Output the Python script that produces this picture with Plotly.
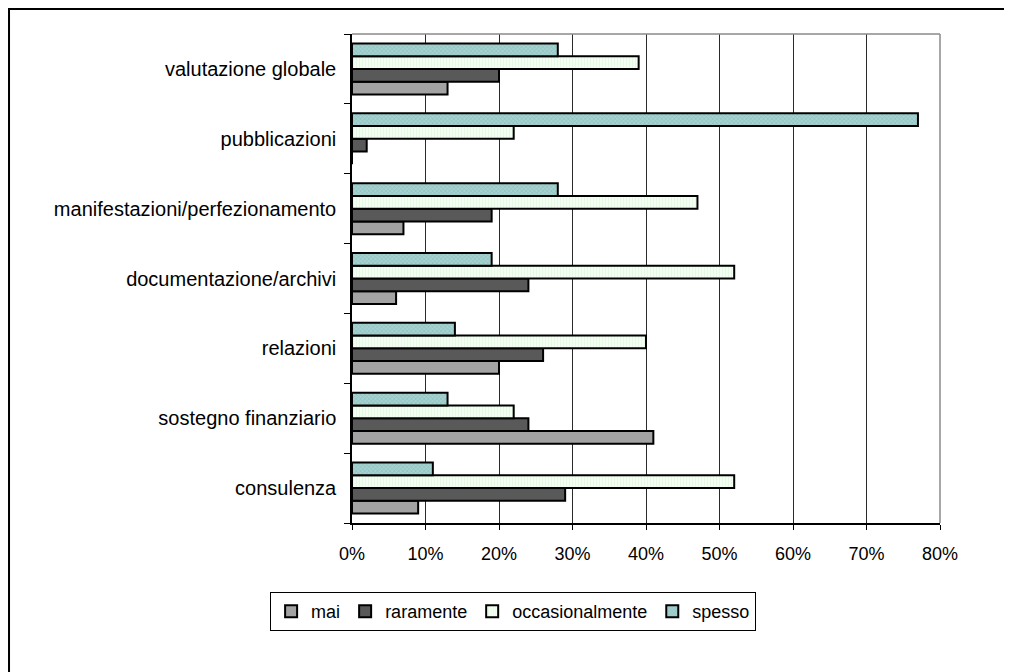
import plotly.graph_objects as go

categories = ["consulenza", "sostegno finanziario", "relazioni", "documentazione/archivi",
              "manifestazioni/perfezionamento", "pubblicazioni", "valutazione globale"]
mai = [9, 41, 20, 6, 7, 0, 13]
raramente = [29, 24, 26, 24, 19, 2, 20]
occasionalmente = [52, 22, 40, 52, 47, 22, 39]
spesso = [11, 13, 14, 19, 28, 77, 28]
x_ticks = [0, 10, 20, 30, 40, 50, 60, 70, 80]

FONT = "Liberation Sans, Arial, sans-serif"
line = dict(color="black", width=2)

fig = go.Figure()
fig.add_trace(go.Bar(y=categories, x=mai, name="mai", orientation="h",
                     marker=dict(color="#A3A3A3", line=line)))
fig.add_trace(go.Bar(y=categories, x=raramente, name="raramente", orientation="h",
                     marker=dict(color="#595959", line=line)))
fig.add_trace(go.Bar(y=categories, x=occasionalmente, name="occasionalmente", orientation="h",
                     marker=dict(color="#F2FFF2", line=line,
                                 pattern=dict(shape="|", bgcolor="#F4FFF4", fgcolor="#D2F2D2",
                                              size=3, solidity=0.3))))
fig.add_trace(go.Bar(y=categories, x=spesso, name="spesso", orientation="h",
                     marker=dict(color="#9CCACA", line=line,
                                 pattern=dict(shape="x", bgcolor="#A4D2D0", fgcolor="#7AA8A8",
                                              size=3, solidity=0.35))))

fig.update_layout(
    width=1004, height=664,
    margin=dict(l=344, r=72, t=26, b=149),
    paper_bgcolor="white", plot_bgcolor="white",
    barmode="group", bargap=0.27, bargroupgap=0,
    font=dict(family=FONT, size=18, color="black"),
    showlegend=True,
    legend=dict(orientation="h", x=0.274, xanchor="center", y=-0.141, yanchor="top",
                traceorder="normal", bordercolor="black", borderwidth=1,
                font=dict(family=FONT, size=18, color="black"),
                itemwidth=30, tracegroupgap=0),
    xaxis=dict(range=[0, 80], tickvals=x_ticks, ticktext=[f"{v}%" for v in x_ticks],
               showgrid=True, gridcolor="#2A2A2A", gridwidth=1,
               showline=True, linecolor="black", linewidth=1.5,
               ticks="outside", ticklen=5, tickcolor="black", zeroline=False,
               ticklabelstandoff=9,
               tickfont=dict(family=FONT, size=18)),
    yaxis=dict(categoryorder="array", categoryarray=categories,
               showline=True, linecolor="black", linewidth=1.5,
               ticks="outside", ticklen=6, tickcolor="black", tickson="boundaries",
               ticklabelstandoff=10,
               showgrid=False, tickfont=dict(family=FONT, size=20)),
    shapes=[
        dict(type="line", xref="paper", yref="paper", x0=0, x1=1, y0=1, y1=1,
             line=dict(color="#8A8A8A", width=1.5)),
        dict(type="line", xref="paper", yref="paper", x0=1, x1=1, y0=0, y1=1,
             line=dict(color="#8A8A8A", width=1.5)),
        dict(type="rect", xref="paper", yref="paper", x0=-0.5833, x1=1.3, y0=-0.5, y1=1.0511,
             line=dict(color="black", width=2)),
    ],
)

fig.write_html("out.html")
